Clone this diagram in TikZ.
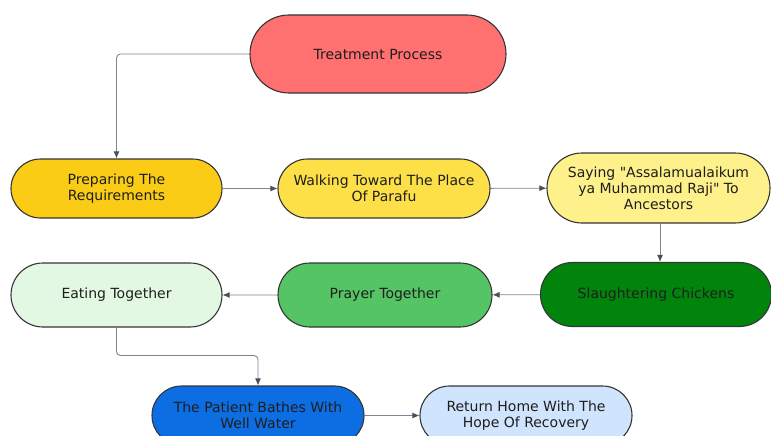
\documentclass[tikz,border=0pt]{standalone}
\usepackage{fontspec}
\setmainfont{DejaVu Sans}
\usetikzlibrary{arrows.meta,shapes.misc}
\definecolor{ink}{HTML}{1E1E1E}
\definecolor{wire}{HTML}{80858F}
\definecolor{tip}{HTML}{4A505C}
\definecolor{treat}{HTML}{FF7070}
\definecolor{amber}{HTML}{FACC15}
\definecolor{sun}{HTML}{FDE047}
\definecolor{cream}{HTML}{FEF08A}
\definecolor{forest}{HTML}{00840C}
\definecolor{leaf}{HTML}{55C464}
\definecolor{mint}{HTML}{E2F8E3}
\definecolor{ocean}{HTML}{0C6EE2}
\definecolor{sky}{HTML}{D0E4FD}
\tikzset{
  >={Latex[length=7pt,width=6pt]},
  every node/.style={font=\fontsize{14}{16}\selectfont,text=ink},
  pill/.style={draw=ink!90,line width=1.1pt,rounded rectangle,align=center,inner sep=0pt,minimum width=211pt,minimum height=59pt},
  flow/.style={->,draw=wire,line width=0.9pt,rounded corners=4pt,arrows={-Latex[length=7pt,width=6pt,color=tip]}},
}
\begin{document}
\begin{tikzpicture}[x=1pt,y=-1pt]
  \useasboundingbox (0,0) rectangle (771,436);
  \node[pill,fill=treat,minimum width=256pt,minimum height=78pt] (treatment) at (378,54) {Treatment Process};
  \node[pill,fill=amber] (prepare) at (116.5,188.5) {Preparing The\\Requirements};
  \node[pill,fill=sun,minimum width=212pt] (walk) at (384,188.5) {Walking Toward The Place\\Of Parafu};
  \node[pill,fill=cream,minimum width=223pt,minimum height=70pt] (greet) at (658.5,188) {Saying \textquotedbl Assalamualaikum\\ya Muhammad Raji\textquotedbl{} To\\Ancestors};
  \node[pill,fill=forest,minimum width=231pt,minimum height=64pt] (slaughter) at (656,294.5) {Slaughtering Chickens};
  \node[pill,fill=leaf,minimum width=214pt,minimum height=64pt] (prayer) at (385,295) {Prayer Together};
  \node[pill,fill=mint,minimum height=64pt] (eat) at (116.5,295) {Eating Together};
  \node[pill,fill=ocean,minimum width=212pt] (bathe) at (258,415.5) {The Patient Bathes With\\Well Water};
  \node[pill,fill=sky,minimum width=212pt] (home) at (526,415.5) {Return Home With The\\Hope Of Recovery};

  \draw[flow] (treatment.west) -| (prepare.north);
  \foreach \a/\b in {prepare/walk,walk/greet,slaughter/prayer,prayer/eat,bathe/home}
    \draw[flow] (\a) -- (\b);
  \draw[flow] (greet.south -| slaughter.north) ++(4,0) coordinate (gs) -- (gs |- slaughter.north);
  \draw[flow] (eat.south) |- (258,355.5) -- (bathe.north);
\end{tikzpicture}
\end{document}
